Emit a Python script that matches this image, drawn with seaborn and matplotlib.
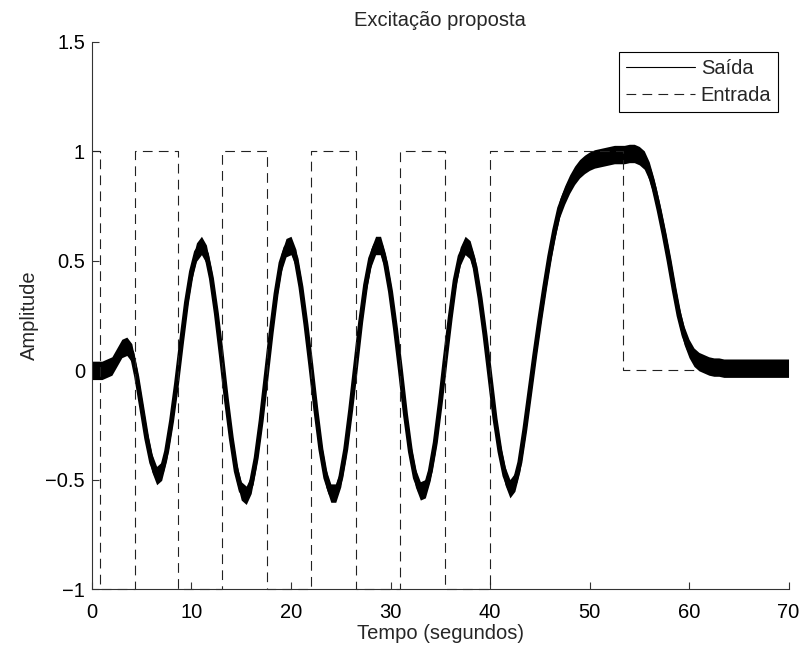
import numpy as np
import pandas as pd
import matplotlib
matplotlib.use("Agg")
import matplotlib.pyplot as plt
from matplotlib.lines import Line2D
import seaborn as sns

# ---------------- data ----------------
titulo = "Excitação proposta"
rotulo_x = "Tempo (segundos)"
rotulo_y = "Amplitude"
nomes_series = ["Saída", "Entrada"]

# Output (Saída) centre line, sampled every 0.5 s from 0 to 70 s
saida_tempo = np.arange(0.0, 70.0 + 0.25, 0.5)
saida_valor = [
    0.00, 0.00, 0.00, 0.01, 0.02, 0.06, 0.10, 0.11, 0.08, -0.03,      # 0 - 4.5
    -0.17, -0.31, -0.42, -0.48, -0.46, -0.37, -0.23, -0.06, 0.13, 0.31,  # 5 - 9.5
    0.45, 0.54, 0.57, 0.53, 0.42, 0.26, 0.07, -0.13, -0.31, -0.46,    # 10 - 14.5
    -0.55, -0.57, -0.52, -0.40, -0.23, -0.03, 0.17, 0.35, 0.49, 0.56,  # 15 - 19.5
    0.57, 0.51, 0.38, 0.21, 0.02, -0.18, -0.36, -0.49, -0.56, -0.56,  # 20 - 24.5
    -0.49, -0.36, -0.18, 0.02, 0.22, 0.39, 0.51, 0.57, 0.57, 0.49,    # 25 - 29.5
    0.36, 0.19, 0.00, -0.20, -0.37, -0.49, -0.55, -0.54, -0.46, -0.33,  # 30 - 34.5
    -0.15, 0.05, 0.24, 0.41, 0.52, 0.57, 0.55, 0.47, 0.33, 0.16,      # 35 - 39.5
    -0.03, -0.22, -0.37, -0.48, -0.54, -0.51, -0.42, -0.27, -0.10, 0.07,  # 40 - 44.5
    0.23, 0.38, 0.52, 0.64, 0.74, 0.80, 0.85, 0.89, 0.92, 0.94,       # 45 - 49.5
    0.955, 0.965, 0.97, 0.975, 0.98, 0.985, 0.985, 0.985, 0.99, 0.99,  # 50 - 54.5
    0.98, 0.96, 0.91, 0.83, 0.73, 0.62, 0.50, 0.37, 0.25, 0.16,       # 55 - 59.5
    0.10, 0.06, 0.04, 0.03, 0.02, 0.015, 0.015, 0.01, 0.01, 0.01,     # 60 - 64.5
    0.01, 0.01, 0.01, 0.01, 0.01, 0.01, 0.01, 0.01, 0.01, 0.01,       # 65 - 69.5
    0.01,                                                             # 70
]
saida_ruido = 0.042  # half-width of the measurement-noise band

# Input (Entrada) square wave: switching instants and held levels
entrada_tempo = [0.0, 0.85, 4.3, 8.65, 13.1, 17.55, 22.05, 26.5, 30.95,
                 35.45, 39.95, 53.35, 60.7]
entrada_valor = [1, -1, 1, -1, 1, -1, 1, -1, 1, -1, 1, 0, 0]

x_ticks = [0, 10, 20, 30, 40, 50, 60, 70]
y_ticks = [-1, -0.5, 0, 0.5, 1, 1.5]

# ---------------- style ----------------
sns.set_style("ticks")
plt.rcParams["font.family"] = ["Liberation Sans", "DejaVu Sans"]
plt.rcParams["lines.scale_dashes"] = False
FS = 14.5

df_saida = pd.DataFrame({"t": saida_tempo, "v": saida_valor})
df_saida["lo"] = df_saida["v"] - saida_ruido
df_saida["hi"] = df_saida["v"] + saida_ruido
df_entrada = pd.DataFrame({"t": entrada_tempo, "v": entrada_valor})

fig = plt.figure(figsize=(8.02, 6.5), dpi=100)
ax = fig.add_axes([0.1147, 0.0931, 0.8685, 0.8427])

# output: noisy band + thick centre line
ax.fill_between(df_saida["t"], df_saida["lo"], df_saida["hi"],
                color="black", linewidth=0)
sns.lineplot(data=df_saida, x="t", y="v", ax=ax, color="black",
             linewidth=3.6, estimator=None, sort=False, legend=False)

# input: dashed square wave
sns.lineplot(data=df_entrada, x="t", y="v", ax=ax, color="#222222",
             linewidth=0.8, drawstyle="steps-post", dashes=False,
             estimator=None, sort=False, legend=False,
             linestyle=(0, (7, 4.5)), clip_on=False)

ax.set_xlim(0, 70)
ax.set_ylim(-1, 1.5)
ax.set_xticks(x_ticks)
ax.set_yticks(y_ticks)
ax.set_xticklabels([str(v) for v in x_ticks])
ax.set_yticklabels([("\u2212" + f"{abs(v):g}") if v < 0 else f"{v:g}" for v in y_ticks])

for s in ["top", "right"]:
    ax.spines[s].set_visible(False)
for s in ["left", "bottom"]:
    ax.spines[s].set_color("#333333")
    ax.spines[s].set_linewidth(0.8)

ax.tick_params(direction="in", length=5, width=0.8, color="#333333",
               labelsize=FS, labelcolor="black", pad=5)
ax.tick_params(axis="x", pad=10)

ax.set_title(titulo, fontsize=FS, pad=11)
ax.set_xlabel(rotulo_x, fontsize=FS, labelpad=1)
ax.set_ylabel(rotulo_y, fontsize=FS, labelpad=5)

handles = [Line2D([], [], color="black", linewidth=0.8),
           Line2D([], [], color="#222222", linewidth=0.8, linestyle=(0, (7, 4.5)))]
leg = ax.legend(handles, nomes_series, loc="upper right", fontsize=FS,
                frameon=True, fancybox=False, framealpha=1, edgecolor="black",
                handlelength=3.4, handletextpad=0.3, labelspacing=0.4,
                borderpad=0.35, borderaxespad=0.5)
leg.get_frame().set_linewidth(0.8)

fig.savefig("out.png", dpi=100)
